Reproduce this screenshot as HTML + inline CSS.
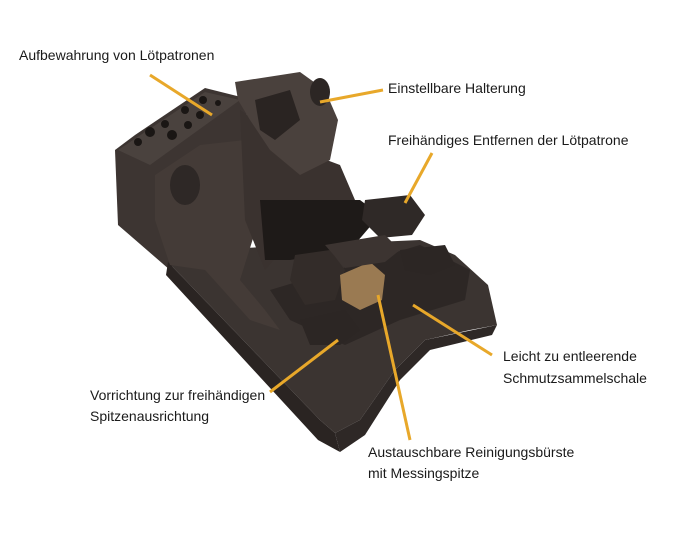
<!DOCTYPE html>
<html><head><meta charset="utf-8"><style>
html,body{margin:0;padding:0;background:#fff;width:678px;height:545px;overflow:hidden}
svg{position:absolute;left:0;top:0}
.t{font-family:"Liberation Sans",sans-serif;font-size:14px;fill:#1a1a1a}
</style></head><body>
<svg width="678" height="545" viewBox="0 0 678 545">
<!-- rear block -->
<polygon points="115,150 135,135 205,88 245,98 250,150 170,270 118,225" fill="#3d3532"/>
<polygon points="118,150 205,92 240,100 150,165" fill="#4a423e"/>
<g fill="#1a1614">
<circle cx="150" cy="132" r="5"/><circle cx="165" cy="124" r="4"/><circle cx="172" cy="135" r="5"/><circle cx="188" cy="125" r="4"/><circle cx="200" cy="115" r="4"/><circle cx="203" cy="100" r="4"/><circle cx="218" cy="103" r="3"/><circle cx="185" cy="110" r="4"/><circle cx="138" cy="142" r="4"/>
</g>
<!-- base tray -->
<polygon points="168,262 200,250 420,240 455,255 488,285 497,325 470,330 425,340 395,370 360,420 335,433 320,420" fill="#3b3431"/>
<polygon points="168,262 320,420 335,433 340,452 318,440 166,275" fill="#2a2422"/>
<polygon points="335,433 360,420 395,370 425,340 497,325 492,335 430,350 400,380 365,435 340,452" fill="#2e2826"/>
<polygon points="270,290 420,245 470,270 465,300 400,320 345,345 290,320" fill="#2d2725"/>
<!-- body column -->
<polygon points="155,175 200,145 245,140 265,200 240,280 265,310 280,330 250,320 205,270 170,265 155,220" fill="#443b37"/>
<polygon points="240,110 300,150 340,165 355,200 380,215 360,235 300,230 265,270 245,220" fill="#3a322f"/>
<polygon points="260,200 360,200 380,215 350,250 290,260 265,260" fill="#1e1a18"/>
<!-- head -->
<polygon points="235,82 300,72 325,90 338,120 330,160 300,175 270,150 250,120 238,100" fill="#4a413d"/>
<polygon points="255,100 290,90 300,120 275,140 260,130" fill="#2a2422"/>
<ellipse cx="320" cy="92" rx="10" ry="14" fill="#2c2624"/>
<ellipse cx="185" cy="185" rx="15" ry="20" fill="#2e2826"/>
<!-- modules -->
<polygon points="365,200 410,195 425,215 412,235 380,238 362,220" fill="#2f2927"/>
<polygon points="295,255 330,250 345,270 335,300 305,305 290,280" fill="#332c29"/>
<polygon points="300,320 345,310 360,330 340,345 310,345" fill="#2c2624"/>
<polygon points="400,250 445,245 455,265 430,275 405,270" fill="#2c2624"/>
<!-- brush -->
<polygon points="340,275 370,262 385,275 382,300 360,310 342,300" fill="#9a7a52"/>
<polygon points="325,245 385,235 400,250 385,262 345,268" fill="#3c3431"/>
<!-- leader lines -->
<g stroke="#e8a82a" stroke-width="3" fill="none">
<line x1="150" y1="75" x2="212" y2="115"/>
<line x1="383" y1="90" x2="320" y2="102"/>
<line x1="432" y1="153" x2="405" y2="203"/>
<line x1="492" y1="355" x2="413" y2="305"/>
<line x1="270" y1="392" x2="338" y2="340"/>
<line x1="410" y1="440" x2="378" y2="295"/>
</g>
<text class="t" x="19" y="60">Aufbewahrung von Lötpatronen</text>
<text class="t" x="388" y="93">Einstellbare Halterung</text>
<text class="t" x="388" y="145">Freihändiges Entfernen der Lötpatrone</text>
<text class="t" x="503" y="361">Leicht zu entleerende</text>
<text class="t" x="503" y="383">Schmutzsammelschale</text>
<text class="t" x="90" y="400">Vorrichtung zur freihändigen</text>
<text class="t" x="90" y="421">Spitzenausrichtung</text>
<text class="t" x="368" y="457">Austauschbare Reinigungsbürste</text>
<text class="t" x="368" y="478">mit Messingspitze</text>
</svg>
</body></html>
